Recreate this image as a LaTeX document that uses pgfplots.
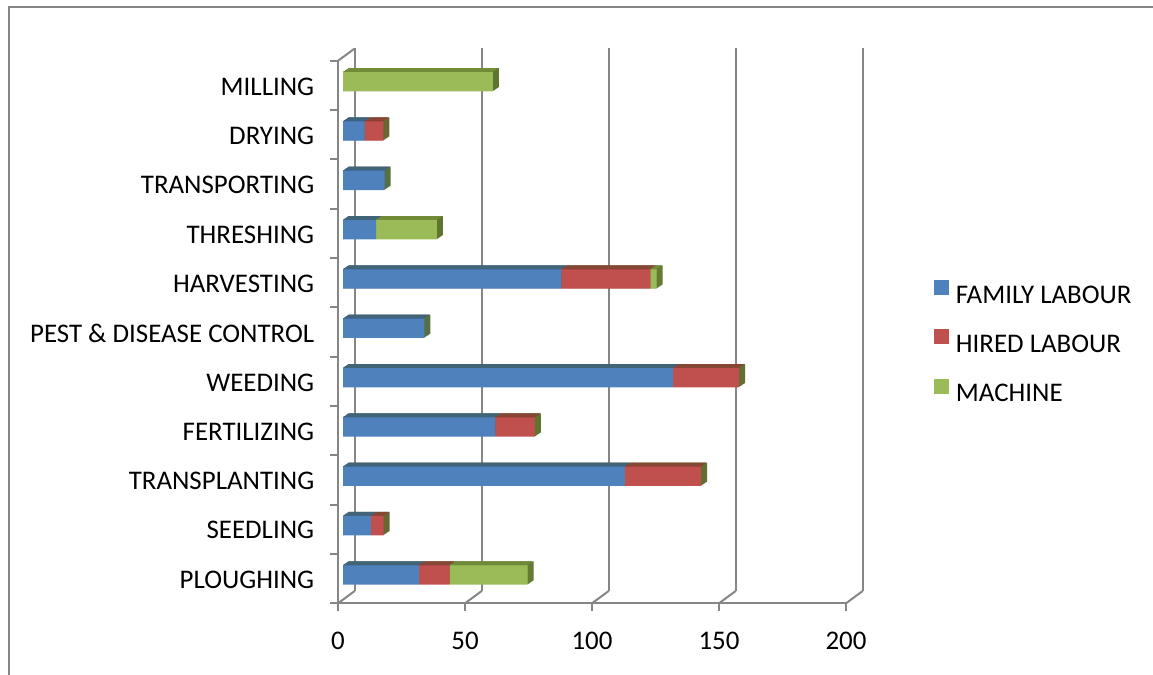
\documentclass[border=0pt]{standalone}
\usepackage{fontspec}
\setmainfont{Carlito}
\usepackage{pgfplots}
\usepackage{pgfplotstable}
\pgfplotsset{compat=1.18}

\definecolor{fam}{RGB}{79,129,189}
\definecolor{hir}{RGB}{192,80,77}
\definecolor{mac}{RGB}{155,187,89}
\definecolor{famD}{RGB}{58,96,142}
\definecolor{hirD}{RGB}{146,58,55}
\definecolor{macD}{RGB}{118,146,60}
\definecolor{sideD}{RGB}{94,117,48}
\definecolor{gridc}{RGB}{134,134,134}

% y: category index (0 = PLOUGHING ... 10 = MILLING)
% f: family labour, h: hired labour, m: machine
\pgfplotstableread{
y f h m
0 30 12 30.7
1 11 5 0
2 111 30 0
3 60 15.5 0
4 130 26 0
5 32 0 0
6 86 35 2.5
7 13 0 24
8 16.4 0 0
9 8.5 7.4 0
10 0 0 59
}\datatable

\pgfplotsset{
  base/.style={scale only axis, width=254pt, height=271.25pt,
    xmin=0, xmax=200, ymin=-0.5, ymax=10.5, anchor=south west},
  bars/.style={base, hide axis, xbar stacked, bar width=9.65pt},
}

\newcommand{\copyk}[1]{%
  \pgfmathsetmacro{\sx}{2.5+0.5*#1}%
  \pgfmathsetmacro{\sxb}{2.5+0.5*(#1-1)}%
  \pgfmathsetmacro{\sy}{1.85+#1/3}%
  \begin{axis}[base, hide axis, xbar, bar width=9.65pt,
      at={(169pt+\sx pt, 35.85pt+\sy pt)}]
    \addplot[fill=sideD, draw=none] table[x expr=\thisrow{f}+\thisrow{h}+\thisrow{m}, y=y]{\datatable};
  \end{axis}
  \begin{axis}[bars, at={(169pt+\sxb pt, 35.85pt+\sy pt)}]
    \addplot[fill=famD, draw=none] table[x=f, y=y]{\datatable};
    \addplot[fill=hirD, draw=none] table[x=h, y=y]{\datatable};
    \addplot[fill=macD, draw=none] table[x=m, y=y]{\datatable};
  \end{axis}
}

\begin{document}
\begin{tikzpicture}
\useasboundingbox (0,0) rectangle (576.5pt,337.5pt);
% outer frame
\draw[gridc, line width=1pt] (4.25pt,-5pt) -- (4.25pt,333.75pt) -- (600pt,333.75pt);

% back wall grid
\begin{axis}[base, at={(177.35pt,42pt)}, axis line style={draw=none},
    xtick={0,50,...,200}, xticklabels={}, ytick=\empty,
    xmajorgrids, major grid style={gridc, line width=1pt},
    tick style={draw=none}]
  \addplot[draw=none] coordinates {(0,0)};
\end{axis}
% floor / wall connectors
\foreach \i in {0,...,4} {
  \draw[gridc, line width=1pt] (169pt+\i*63.5pt, 35.85pt) -- ++(8.35pt,6.15pt);
}
\draw[gridc, line width=1pt] (169pt, 307.1pt) -- ++(8.35pt,6.15pt);

% front axis with ticks, labels and legend
\begin{axis}[base, at={(169pt,35.85pt)},
    axis lines*=left,
    axis line style={gridc, line width=1pt},
    xtick={0,50,...,200},
    ytick={-0.5,0.5,...,10.5}, yticklabels={},
    extra y ticks={0,...,10},
    extra y tick labels={PLOUGHING,SEEDLING,TRANSPLANTING,FERTILIZING,WEEDING,PEST \& DISEASE CONTROL,HARVESTING,THRESHING,TRANSPORTING,DRYING,MILLING},
    extra y tick style={tick style={draw=none}},
    tick align=outside, major tick length=4pt,
    tick style={gridc, line width=1pt},
    /pgf/number format/assume math mode=true,
    tick label style={font=\fontsize{13.45}{16}\selectfont},
    yticklabel style={anchor=east, inner sep=0pt, xshift=-7.7pt, yshift=-0.5pt},
    xticklabel style={anchor=north, inner sep=0pt, yshift=-10.3pt},
    legend style={at={(1.161,0.4807)}, anchor=west, draw=none, fill=none,
      font=\fontsize{13.45}{16}\selectfont, row sep=11.6pt,
      nodes={inner sep=0pt}},
    legend cell align=left,
    legend image code/.code={\fill[#1] (0pt,0.45pt) rectangle (7.5pt,7.95pt);
      \path (10.85pt,0pt);},
  ]
  \addlegendimage{fill=fam, draw=none}
  \addlegendentry{FAMILY LABOUR}
  \addlegendimage{fill=hir, draw=none}
  \addlegendentry{HIRED LABOUR}
  \addlegendimage{fill=mac, draw=none}
  \addlegendentry{MACHINE}
\end{axis}

% 3D extrusion of bars (back to front)
\foreach \k in {6,5,...,1} {\copyk{\k}}

% front faces
\begin{axis}[bars, at={(171.5pt,37.7pt)}]
  \addplot[fill=fam, draw=none] table[x=f, y=y]{\datatable};
  \addplot[fill=hir, draw=none] table[x=h, y=y]{\datatable};
  \addplot[fill=mac, draw=none] table[x=m, y=y]{\datatable};
\end{axis}
\end{tikzpicture}
\end{document}
